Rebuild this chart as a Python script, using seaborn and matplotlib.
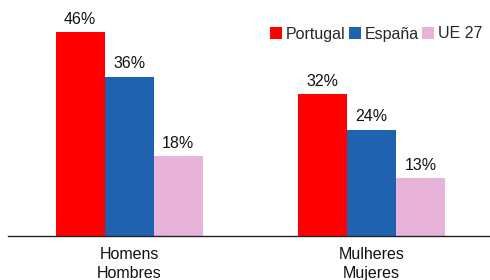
import matplotlib
matplotlib.use("Agg")
import matplotlib.pyplot as plt
import seaborn as sns
import pandas as pd
from matplotlib.patches import Patch

categories = ["Homens\nHombres", "Mulheres\nMujeres"]
series = ["Portugal", "España", "UE 27"]
portugal = [46, 32]
espana = [36, 24]
ue27 = [18, 13]
colors = ["#FF0000", "#1F63B0", "#E7B3D9"]

rows = []
for s, vals in zip(series, [portugal, espana, ue27]):
    for c, v in zip(categories, vals):
        rows.append({"cat": c, "series": s, "value": v})
df = pd.DataFrame(rows)

sns.set_theme(style="white")
plt.rcParams["font.family"] = ["Liberation Sans", "DejaVu Sans"]

fs = 11.5
fig = plt.figure(figsize=(4.9, 2.8), dpi=100)
ax = fig.add_axes([8/490, 44/280, 482/490, 236/280])
sns.barplot(data=df, x="cat", y="value", hue="series", palette=colors,
            width=0.607, order=categories, hue_order=series, ax=ax,
            saturation=1, legend=False, edgecolor="none")
ax.set_xlim(-0.5, 1.49)
ax.set_ylim(0, 53.3)
for cont in ax.containers:
    ax.bar_label(cont, fmt="{:.0f}%", padding=4, fontsize=fs, color="#111111")
for side in ["top", "right", "left"]:
    ax.spines[side].set_visible(False)
ax.spines["bottom"].set_color("#222222")
ax.spines["bottom"].set_linewidth(1.0)
ax.set_yticks([])
ax.set_xlabel("")
ax.set_ylabel("")
ax.tick_params(axis="x", length=0, pad=8, labelsize=fs, colors="#111111")
for lab in ax.get_xticklabels():
    lab.set_linespacing(1.3)

handles = [Patch(facecolor=c, edgecolor="none") for c in colors]
fig.legend(handles, series, loc="center right", bbox_to_anchor=(1.0, 1 - 34/280),
           ncol=3, frameon=False, fontsize=fs, handlelength=0.75, handleheight=0.75,
           handletextpad=0.2, columnspacing=0.25, borderaxespad=0.1)
fig.savefig("out.png", dpi=100)
